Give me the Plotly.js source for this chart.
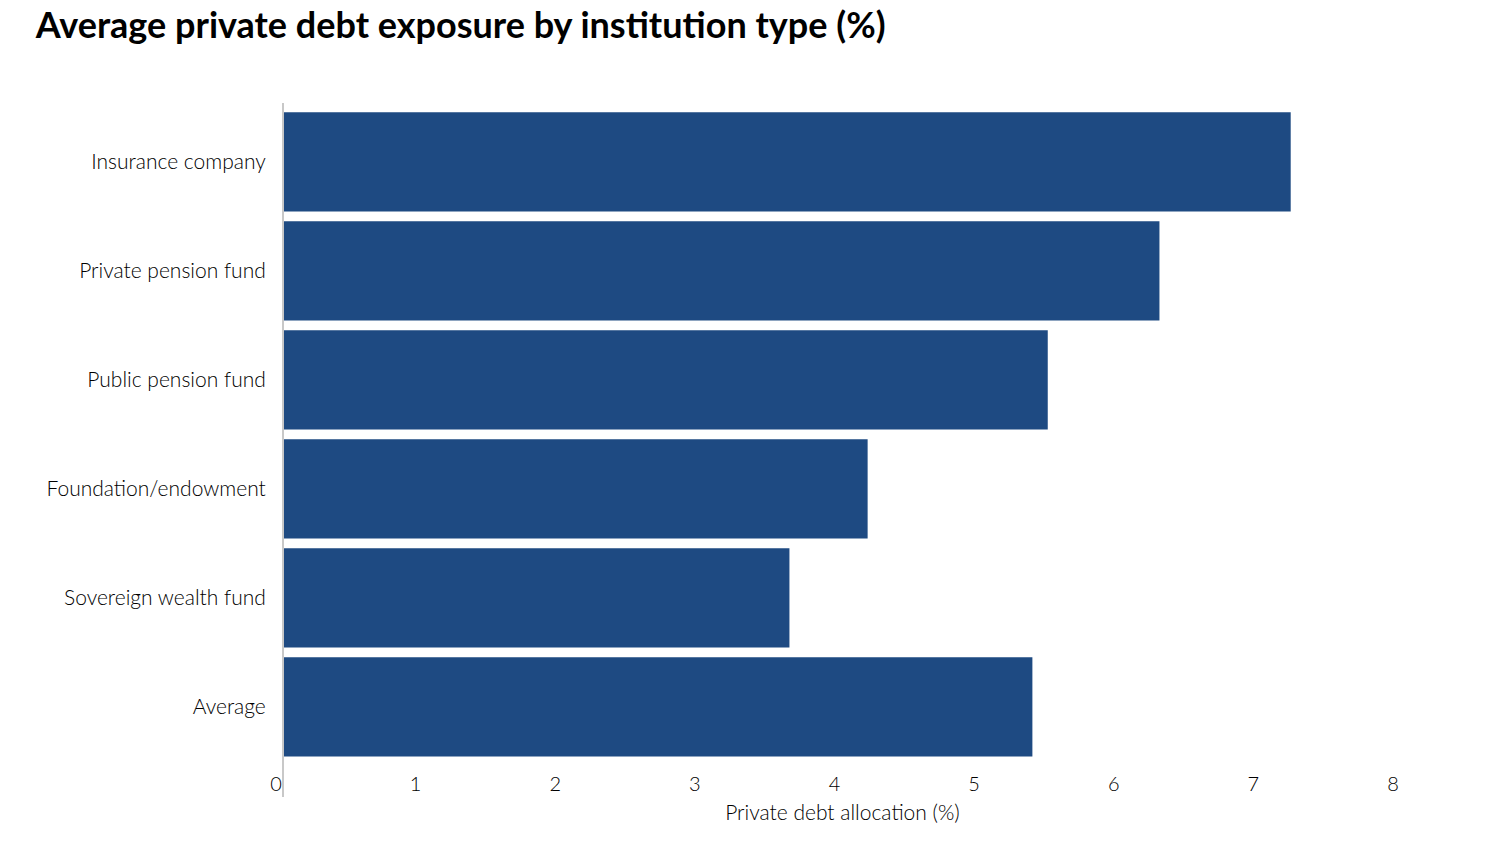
<!DOCTYPE html>
<html>
<head>
<meta charset="utf-8">
<script src="https://cdn.plot.ly/plotly-3.0.1.min.js"></script>
<style>
  html, body { margin: 0; padding: 0; background: #fff; }
  #chart { width: 1490px; height: 858px; }
</style>
</head>
<body>
<div id="chart"></div>
<script>
var institutions = [
    "Insurance company",
    "Private pension fund",
    "Public pension fund",
    "Foundation/endowment",
    "Sovereign wealth fund",
    "Average"
];
var allocation = [7.21, 6.27, 5.47, 4.18, 3.62, 5.36];
var xTicks = [0, 1, 2, 3, 4, 5, 6, 7, 8];

var bars = {
    type: "bar",
    orientation: "h",
    y: institutions,
    x: allocation,
    marker: { color: "#1e4a82", line: { width: 0 } },
    hoverinfo: "skip"
};

var layout = {
    width: 1490,
    height: 858,
    paper_bgcolor: "#fff",
    plot_bgcolor: "#fff",
    margin: { l: 284, r: 89, t: 103, b: 61 },
    showlegend: false,
    bargap: 0.09,
    font: { family: "Lato, 'Open Sans', sans-serif", color: "#000", size: 20, weight: 300 },
    title: {
        text: "<b>Average private debt exposure by institution type (%)</b>",
        x: 0.024, xanchor: "left",
        y: 0.97, yanchor: "middle",
        font: { family: "Lato, sans-serif", size: 36, color: "#000", weight: 900 }
    },
    xaxis: {
        range: [0, 8],
        tickvals: xTicks,
        showgrid: false,
        zeroline: false,
        showline: false,
        ticks: "",
        ticklabelstandoff: -27,
        ticklabelshift: -8,
        tickfont: { size: 20, weight: 300, color: "#000" },
        title: { text: "Private debt allocation (%)", font: { size: 21, weight: 300, color: "#000" }, standoff: 11 }
    },
    yaxis: {
        categoryorder: "array",
        categoryarray: institutions,
        range: [5.826, -0.541],
        showgrid: false,
        zeroline: false,
        showline: true,
        linecolor: "#c8c8c8",
        linewidth: 2,
        ticks: "",
        ticklabelstandoff: 12,
        tickfont: { size: 21, weight: 300, color: "#000" }
    }
};

Plotly.newPlot("chart", [bars], layout, { staticPlot: true, displayModeBar: false });
</script>
</body>
</html>
